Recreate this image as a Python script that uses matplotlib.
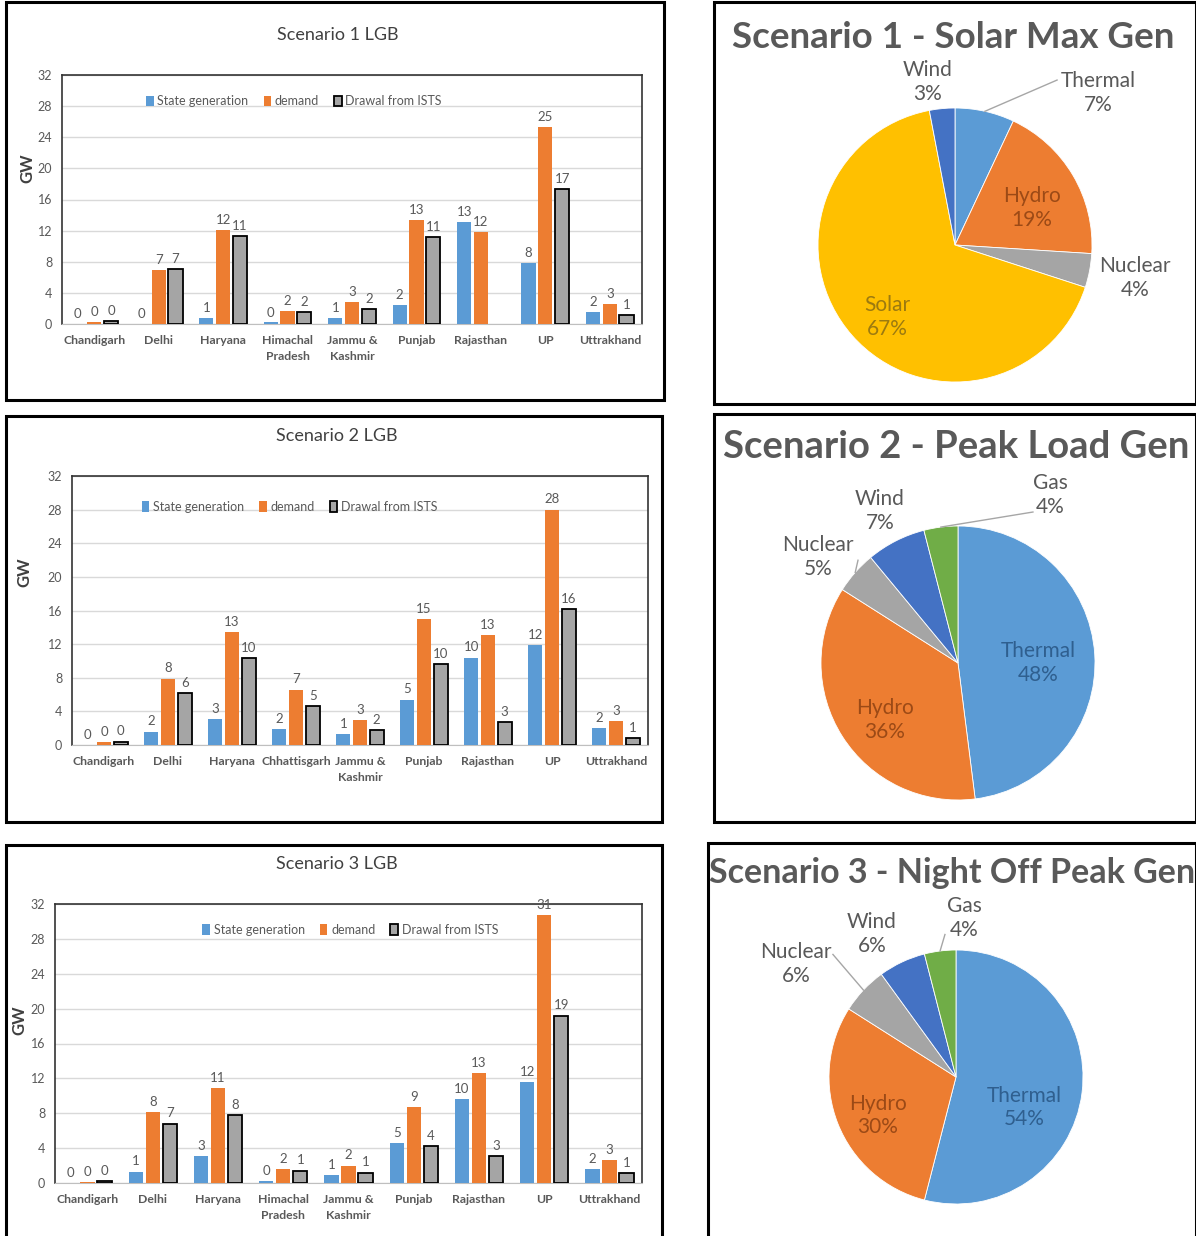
import numpy as np
import matplotlib
matplotlib.use("Agg")
import matplotlib.pyplot as plt
from matplotlib.patches import Rectangle

plt.rcParams['font.family'] = ['Lato', 'DejaVu Sans']

# ---- bar chart data (GW) ----
cats_1 = ["Chandigarh", "Delhi", "Haryana", "Himachal\nPradesh", "Jammu &\nKashmir",
          "Punjab", "Rajasthan", "UP", "Uttrakhand"]
cats_2 = ["Chandigarh", "Delhi", "Haryana", "Chhattisgarh", "Jammu &\nKashmir",
          "Punjab", "Rajasthan", "UP", "Uttrakhand"]
cats_3 = cats_1

state_1 = [0.0, 0.0, 0.8, 0.2, 0.8, 2.4, 13.1, 7.9, 1.6]
demand_1 = [0.3, 7.0, 12.1, 1.7, 2.8, 13.4, 11.8, 25.3, 2.6]
drawal_1 = [0.4, 7.1, 11.3, 1.6, 1.9, 11.2, np.nan, 17.4, 1.2]

state_2 = [0.0, 1.6, 3.1, 1.9, 1.3, 5.4, 10.4, 11.9, 2.0]
demand_2 = [0.3, 7.9, 13.4, 6.6, 3.0, 15.0, 13.1, 28.0, 2.8]
drawal_2 = [0.4, 6.2, 10.3, 4.6, 1.8, 9.6, 2.7, 16.2, 0.8]

state_3 = [0.0, 1.3, 3.1, 0.2, 0.9, 4.6, 9.6, 11.6, 1.6]
demand_3 = [0.1, 8.1, 10.9, 1.6, 2.0, 8.7, 12.6, 30.7, 2.6]
drawal_3 = [0.2, 6.8, 7.8, 1.4, 1.2, 4.2, 3.1, 19.2, 1.1]

# ---- pie data (%) ----
pie_names_1 = ["Thermal", "Hydro", "Nuclear", "Solar", "Wind"]
pie_vals_1 = [7, 19, 4, 67, 3]
pie_names_2 = ["Thermal", "Hydro", "Nuclear", "Wind", "Gas"]
pie_vals_2 = [48, 36, 5, 7, 4]
pie_names_3 = ["Thermal", "Hydro", "Nuclear", "Wind", "Gas"]
pie_vals_3 = [54, 30, 6, 6, 4]

BLUE, ORANGE, GREY, GOLD, DBLUE, GREEN = "#5B9BD5", "#ED7D31", "#A5A5A5", "#FFC000", "#4472C4", "#70AD47"
TXT = "#595959"

W, H = 1196, 1236
fig = plt.figure(figsize=(W / 100, H / 100), dpi=100)
fig.patch.set_facecolor("white")


def px_axes(x0, y0, x1, y1):
    return fig.add_axes([x0 / W, 1 - y1 / H, (x1 - x0) / W, (y1 - y0) / H])


def px_box(x0, y0, x1, y1):
    fig.add_artist(Rectangle((x0 / W, 1 - y1 / H), (x1 - x0) / W, (y1 - y0) / H,
                             transform=fig.transFigure, fill=False, lw=2.2, ec="black"))


def bar_panel(frame, box, title, gw_xy, cats, state, demand, drawal, leg_xy):
    px_box(*box)
    ax = px_axes(*frame)
    x = np.arange(len(cats))
    w = 0.22
    series = [(state, BLUE, "none", 0, "State generation", -0.26),
              (demand, ORANGE, "none", 0, "demand", 0.0),
              (drawal, GREY, "black", 1.3, "Drawal from ISTS", 0.26)]
    for vals, col, ec, lw, name, off in series:
        vals = np.asarray(vals, dtype=float)
        ok = ~np.isnan(vals)
        ax.bar(x[ok] + off, vals[ok], w, color=col, edgecolor=ec, linewidth=lw, label=name, zorder=3)
        for xi, v in zip(x[ok] + off, vals[ok]):
            ax.text(xi, v + 0.5, f"{v:.0f}", ha="center", va="bottom", fontsize=9.5, color=TXT)
    ax.set_xlim(-0.5, len(cats) - 0.5)
    ax.set_ylim(0, 32)
    ax.set_yticks(range(0, 33, 4))
    ax.set_xticks(x)
    ax.set_xticklabels(cats, fontsize=8.8, color=TXT, fontweight="bold", linespacing=1.55)
    ax.tick_params(axis="y", labelsize=9, labelcolor=TXT, length=0, pad=7)
    ax.tick_params(axis="x", length=0, pad=8)
    ax.grid(axis="y", color="#D9D9D9", lw=1, zorder=0)
    for s in ("top", "right", "left"):
        ax.spines[s].set_color("#333333")
        ax.spines[s].set_linewidth(1.2)
    ax.spines["bottom"].set_color("#BFBFBF")
    fig.text(gw_xy[0] / W, 1 - gw_xy[1] / H, "GW", rotation=90, ha="center", va="center",
             fontsize=12, fontweight="bold", color="#404040")
    leg = ax.legend(loc="center", bbox_to_anchor=leg_xy, ncol=3, frameon=False, fontsize=9,
                    handlelength=0.6, handleheight=0.9, handletextpad=0.3, columnspacing=1.2)
    for t in leg.get_texts():
        t.set_color(TXT)
    fig.text((box[0] + box[2]) / 2 / W + 0.002, 1 - frame[1] / H + 0.032, title,
             ha="center", va="center", fontsize=13, color="#404040")


bar_panel((62, 75, 642, 324), (6, 2, 664, 400), "Scenario 1 LGB", (27, 168),
          cats_1, state_1, demand_1, drawal_1, (0.40, 0.895))
bar_panel((72, 476, 648, 745), (6, 416, 662, 822), "Scenario 2 LGB", (24, 572),
          cats_2, state_2, demand_2, drawal_2, (0.378, 0.885))
bar_panel((55, 904, 642, 1183), (6, 845, 662, 1240), "Scenario 3 LGB", (19, 1020),
          cats_3, state_3, demand_3, drawal_3, (0.503, 0.907))


def pie_panel(box, center, radius, title, title_xy, title_size, names, vals, colors,
              label_pos, label_cols, leaders):
    px_box(*box)
    x0, y0, x1, y1 = box
    cx, cy = center
    ax = px_axes(x0, y0, x1, y1)
    wedges, _ = ax.pie(vals, colors=colors, startangle=90, counterclock=False,
                       radius=1.0, wedgeprops=dict(linewidth=0.6, edgecolor="white"))
    ax.set_xlim((x0 - cx) / radius, (x1 - cx) / radius)
    ax.set_ylim((cy - y1) / radius, (cy - y0) / radius)
    ax.set_aspect("auto")
    ax.axis("off")
    for wdg, name, v, pos, col, lead in zip(wedges, names, vals, label_pos, label_cols, leaders):
        ax.text(pos[0], pos[1], f"{name}\n{v}%", ha="center", va="center",
                fontsize=15, color=col, linespacing=1.2)
        if lead is not None:
            mid = np.deg2rad((wdg.theta1 + wdg.theta2) / 2)
            ax.plot([lead[0], np.cos(mid)], [lead[1], np.sin(mid)], color="#A6A6A6", lw=1)
    fig.text(title_xy[0] / W, 1 - title_xy[1] / H, title, ha="left", va="center",
             fontsize=title_size, fontweight="bold", color=TXT)


pie_panel((714, 2, 1196, 404), (955, 245), 137, "Scenario 1 - Solar Max Gen", (732, 37), 26.5,
          pie_names_1, pie_vals_1, [BLUE, ORANGE, GREY, GOLD, DBLUE],
          [(1.044, 1.109), (0.562, 0.27), (1.314, -0.241), (-0.496, -0.526), (-0.197, 1.19)],
          [TXT, "#9C4A16", TXT, "#9C7A10", TXT],
          [(0.745, 1.204), None, None, None, None])
pie_panel((714, 414, 1196, 822), (958, 663), 137, "Scenario 2 - Peak Load Gen", (723, 447), 27.5,
          pie_names_2, pie_vals_2, [BLUE, ORANGE, GREY, DBLUE, GREEN],
          [(0.584, 0.0), (-0.533, -0.416), (-1.022, 0.774), (-0.569, 1.109), (0.672, 1.226)],
          ["#2F5F8F", "#9C4A16", TXT, TXT, TXT],
          [None, None, (-0.73, 0.75), None, (0.547, 1.102)])
pie_panel((708, 843, 1196, 1240), (956, 1077), 127, "Scenario 3 - Night Off Peak Gen", (709, 873), 24.5,
          pie_names_3, pie_vals_3, [BLUE, ORANGE, GREY, DBLUE, GREEN],
          [(0.535, -0.24), (-0.614, -0.30), (-1.26, 0.89), (-0.661, 1.126), (0.063, 1.252)],
          ["#2F5F8F", "#9C4A16", TXT, TXT, TXT],
          [None, None, (-0.969, 0.965), None, (-0.087, 1.122)])

fig.savefig("out.png", dpi=100)
